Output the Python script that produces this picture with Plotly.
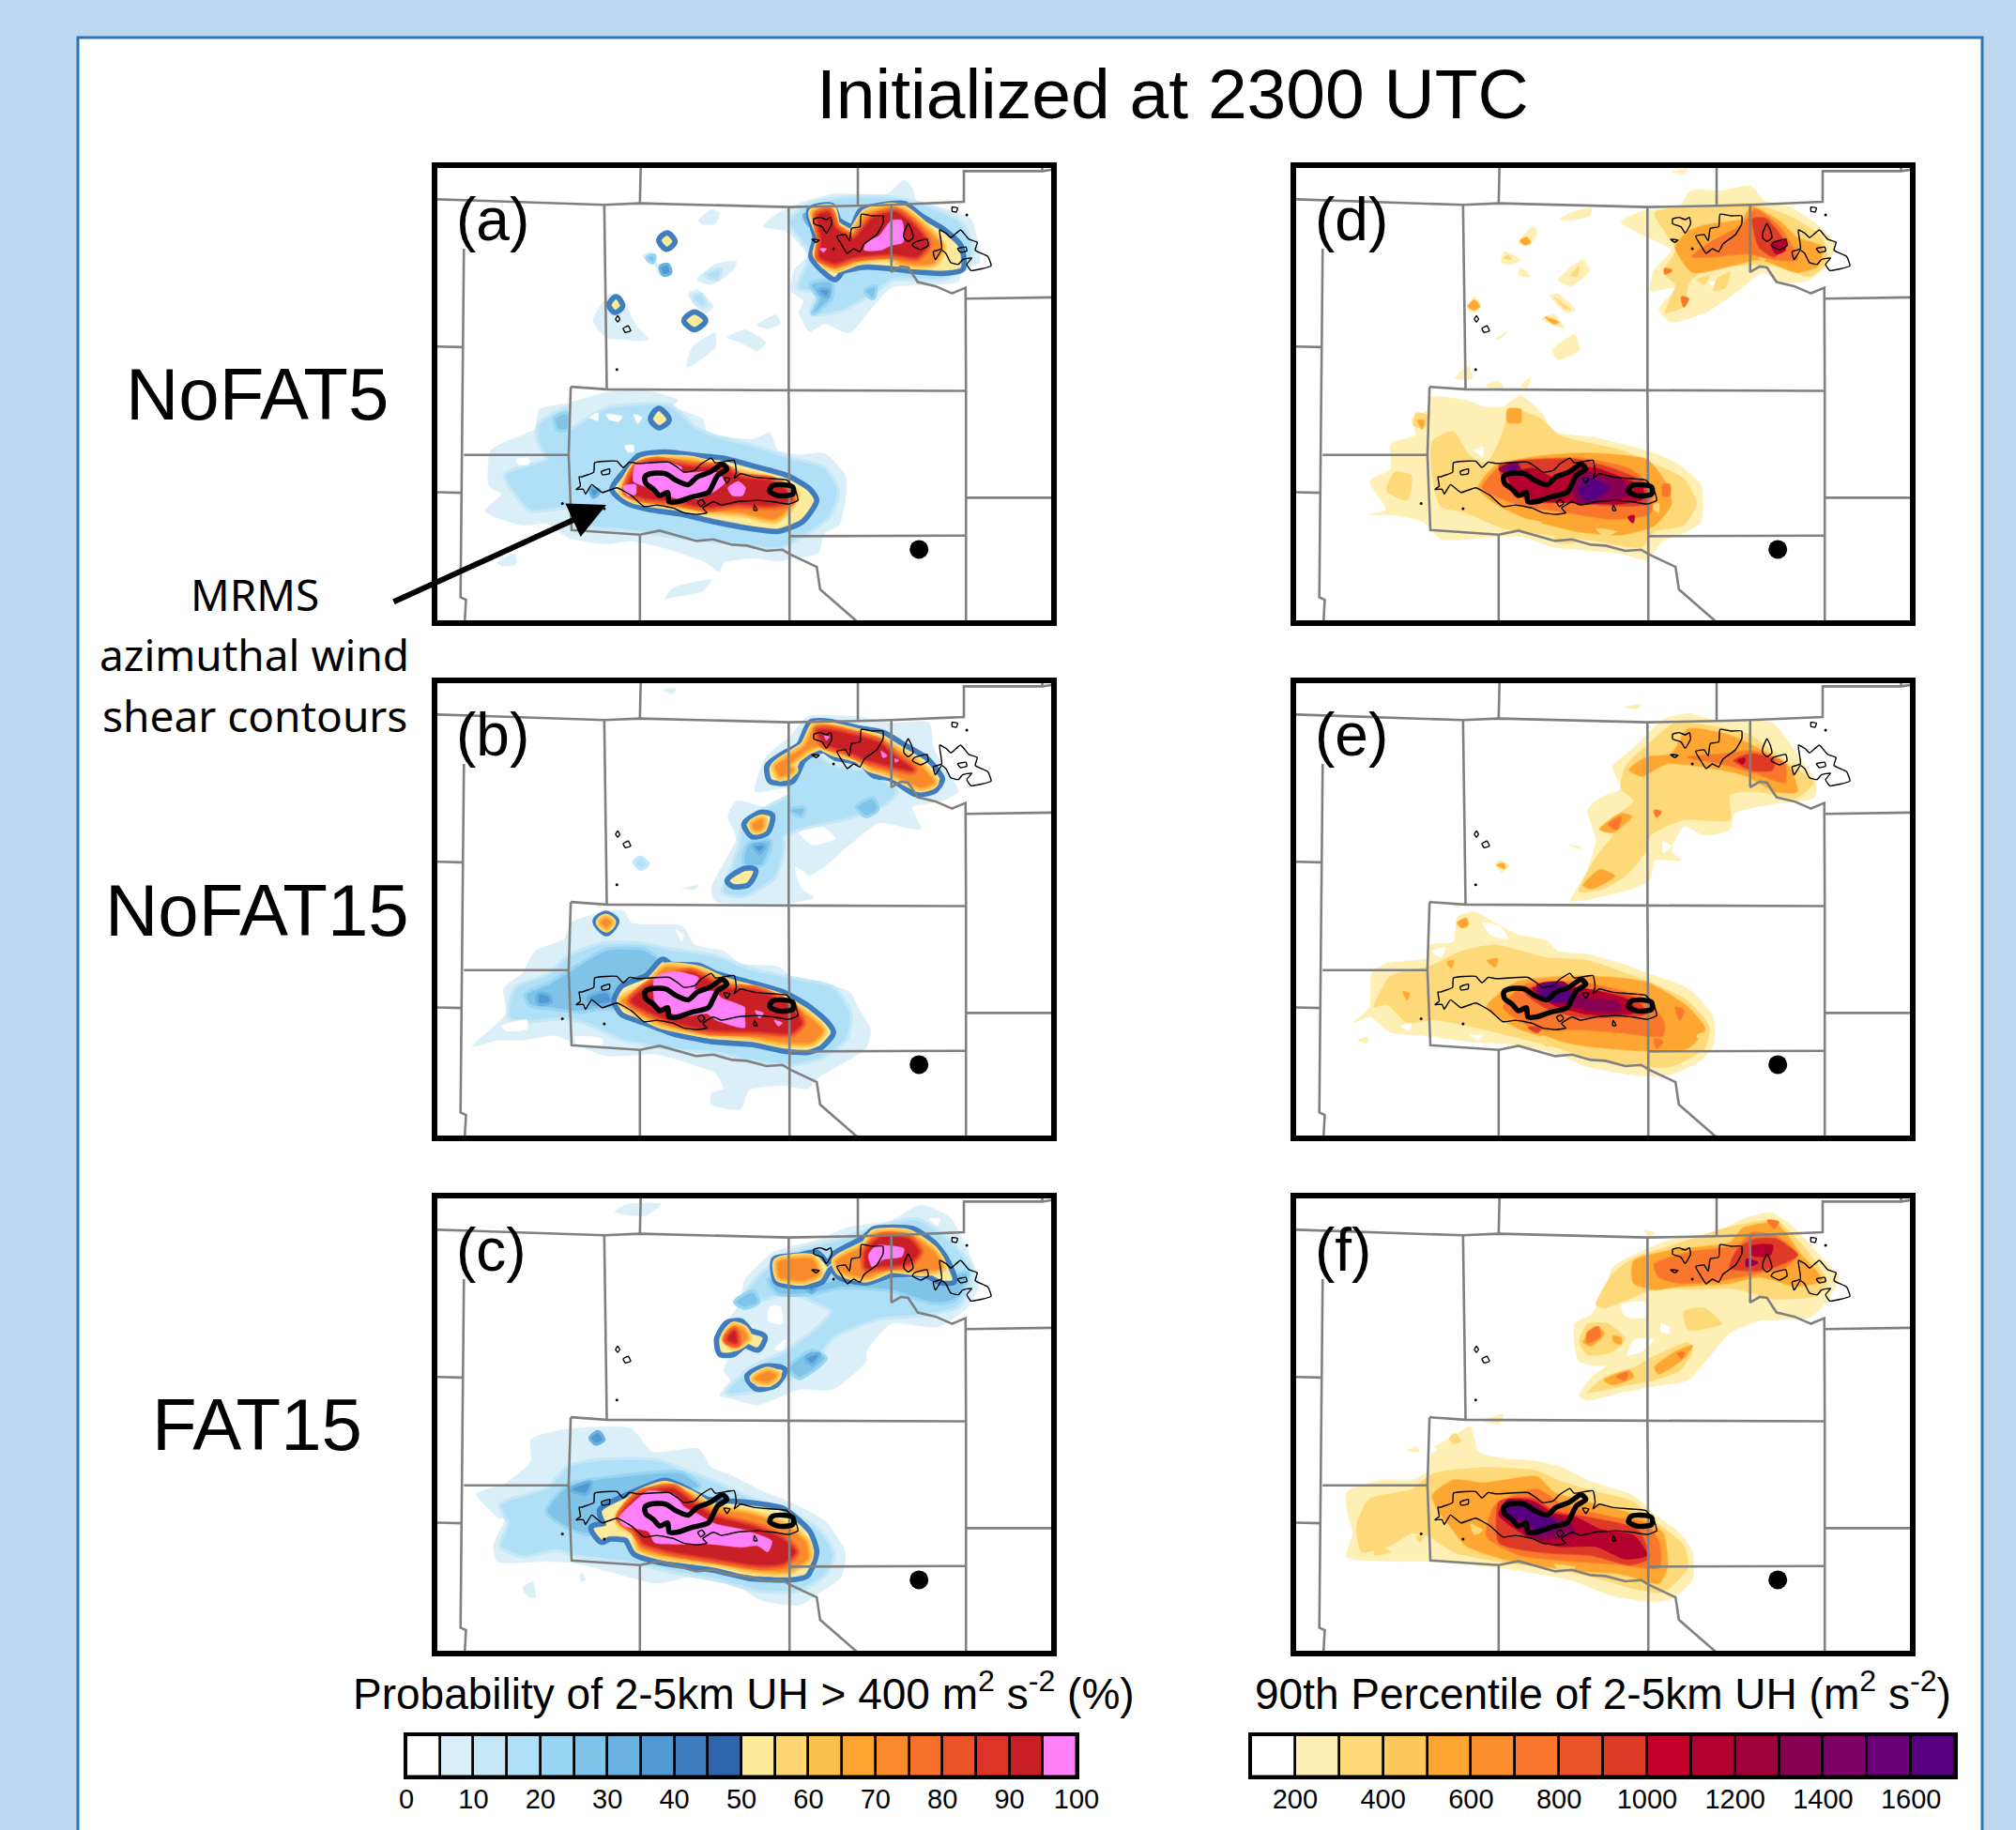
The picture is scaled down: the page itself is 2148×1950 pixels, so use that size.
import plotly.graph_objects as go

# ---------- text and colour scales ----------
TITLE = "Initialized at 2300 UTC"
ROW_NAMES = ["NoFAT5", "NoFAT15", "FAT15"]
NOTE_LINES = ["MRMS", "azimuthal wind", "shear contours"]
PANEL_TAGS = ["(a)", "(b)", "(c)", "(d)", "(e)", "(f)"]
PROB_TITLE = "Probability of 2-5km UH &gt; 400 m<sup>2</sup> s<sup>-2</sup> (%)"
UH_TITLE = "90th Percentile of 2-5km UH (m<sup>2</sup> s<sup>-2</sup>)"
PROB_COLORS = ["#FFFFFF", "#DAEFF8", "#C5E7F6", "#B0E0F7", "#97D5F3", "#7FC3E8", "#6AB2E0", "#5199D3", "#3F7DBE", "#2E66AE",
               "#FDEB9C", "#FDD572", "#FDBF4B", "#FDA431", "#F98B2C", "#F86F2A", "#EA5328", "#DE3428", "#C91F26", "#FF80F8"]
UH_COLORS = ["#FFFFFF", "#FEEFB4", "#FED979", "#FEC95C", "#FDA631", "#FC8F2D", "#F8772C", "#EA5329", "#DD3B27", "#C4002B",
             "#B3002F", "#9F0039", "#870052", "#7F0066", "#6A0075", "#56007F"]
PROB_EDGES = list(range(0, 105, 5))
UH_EDGES = list(range(100, 1800, 100))
PROB_TICKS = list(range(0, 110, 10))
UH_TICKS = list(range(200, 1800, 200))

# ---------- base map (state and county style outlines) ----------
MAP_LINES = [
    [(35,127),(435,145),(520,140),(875,152),(1040,148),(1120,145),(1293,135),(1293,37),(1480,37),(1502,33)],
    [(1480,25),(1480,37)], [(522,20),(520,140)], [(1040,20),(1040,148)],
    [(435,145),(441,735)], [(875,152),(875,738),(877,1205),(877,1480)],
    [(1120,145),(1120,360),(1143,342),(1160,345),(1183,392),(1225,405),(1265,428),(1297,410),(1298,740),(1298,1480)],
    [(1297,445),(1502,441)], [(355,727),(441,735),(875,738),(1298,740)],
    [(355,727),(350,945),(357,1185),(520,1200),(567,1187),(655,1220),(695,1215),(740,1232),(775,1235),(822,1252),(860,1248),(877,1262),(942,1303),(950,1375),(1040,1480)],
    [(100,285),(95,945),(92,1400),(105,1408),(102,1480)], [(100,945),(350,945)],
    [(35,598),(95,600)], [(35,1064),(95,1066)], [(520,1200),(520,1480)],
    [(877,1205),(1298,1203)], [(1298,1082),(1502,1082)],
]
MESO_DOT = [(1186, 1247)]

# ---------- MRMS azimuthal wind shear contours ----------
MRMS_THIN = [
    [(380,1015),(410,1000),(412,970),(465,965),(480,985),(495,968),(515,972),(590,968),(610,985),(625,1000),(650,995),(665,975),(690,955),(700,970),(745,962),(750,1000),(745,1020),(760,1005),(790,1015),(830,1020),(870,1025),(890,1055),(897,1090),(875,1102),(840,1095),(800,1090),(750,1095),(715,1105),(695,1095),(670,1115),(680,1130),(655,1135),(625,1130),(600,1115),(560,1105),(530,1110),(500,1075),(465,1050),(430,1065),(405,1040),(390,1070),(385,1055),(368,1055),(378,1045),(375,1015)],
    [(428,998),(448,990),(447,1005),(430,1008)], [(658,1095),(668,1088),(675,1100),(665,1110)],
    [(720,1018),(735,1020),(728,1035)], [(793,1105),(800,1122),(792,1122)],
    [(935,190),(950,185),(965,192),(975,185),(978,205),(965,235),(955,215),(935,205)],
    [(930,255),(948,258),(940,265)],
    [(990,245),(1010,240),(1020,260),(1025,220),(1045,215),(1048,175),(1075,180),(1100,180),(1100,205),(1085,240),(1055,270),(1045,295),(1030,285),(1015,300),(1000,270)],
    [(1150,235),(1160,205),(1168,225),(1172,250),(1160,262),(1150,250)],
    [(1175,265),(1205,255),(1208,275),(1190,288),(1170,275)],
    [(1235,225),(1250,235),(1262,250),(1285,225),(1305,255),(1325,265),(1320,290),(1350,310),(1358,340),(1310,355),(1300,335),(1312,315),(1290,320),(1280,335),(1262,330),(1250,300),(1240,290),(1225,320),(1220,295),(1240,285)],
    [(1278,285),(1298,280),(1300,292),(1285,297)], [(1265,152),(1278,155),(1275,168),(1265,165)],
    [(467,500),(472,510),(467,520),(462,510)], [(480,540),(492,532),(498,548),(485,553)],
]
MRMS_THICK = [
    [(532,1015),(545,1005),(582,1005),(605,1025),(635,1040),(657,1015),(687,1000),(717,975),(728,990),(706,1010),(694,1040),(683,1065),(642,1080),(608,1095),(590,1095),(586,1065),(567,1075),(553,1055),(534,1035)],
    [(835,1045),(860,1040),(885,1048),(885,1070),(850,1075),(830,1062)],
]
MRMS_DOTS = [(335,1100),(435,1117),(982,285),(1300,177),(465,672)]

# ---------- panel (a) probability regions ----------
A_L1 = [
    [(150,1125),(190,1070),(160,1045),(165,930),(270,860),(280,800),(345,780),(440,745),(520,735),(610,770),(600,790),(670,830),(680,870),(720,885),(790,895),(830,875),(850,930),(900,945),(960,940),(1010,1010),(1010,1090),(995,1170),(960,1195),(945,1260),(890,1275),(850,1285),(790,1275),(720,1290),(710,1320),(680,1290),(620,1260),(570,1240),(500,1220),(440,1230),(350,1210),(300,1165),(240,1170)],
    [(580,1405),(600,1370),(690,1345),(670,1380),(600,1400)], [(180,1290),(220,1260),(225,1295),(190,1300)],
    [(815,215),(845,175),(900,140),(980,110),(1110,110),(1150,65),(1170,90),(1180,130),(1230,150),(1310,190),(1325,260),(1330,330),(1290,350),(1280,390),(1220,400),(1120,410),(1070,480),(1020,555),(960,525),(925,550),(900,490),(910,450),(880,420),(890,350),(920,310),(870,230)],
    [(660,195),(690,160),(710,170),(700,205),(670,208)], [(525,310),(545,295),(560,330),(595,345),(590,372),(565,370),(555,335)],
    [(655,385),(700,335),(750,325),(745,350),(690,400)], [(635,430),(655,415),(695,470),(680,490),(650,465)],
    [(632,665),(645,600),(700,555),(700,600),(655,650)], [(728,570),(770,545),(820,585),(800,612),(760,585)],
    [(408,515),(450,430),(480,450),(510,530),(540,575),(515,580),(480,575),(440,570)], [(798,530),(845,497),(855,525),(825,540)],
]
A_L3 = [
    [(280,850),(345,800),(345,870),(440,800),(590,790),(650,860),(700,890),(790,920),(880,960),(960,990),(990,1060),(970,1140),(920,1190),(850,1240),(750,1225),(620,1205),(480,1180),(400,1170),(350,1110),(260,1120),(220,1060),(200,1010),(300,960),(280,900)],
    [(880,200),(920,150),(1000,125),(1120,125),(1200,150),(1280,200),(1310,270),(1300,340),(1240,380),(1120,380),(1080,420),(1000,480),(960,490),(930,490),(950,420),(900,410),(920,340),(930,300)],
    [(680,370),(710,355),(705,380)], [(650,440),(665,435),(675,465),(660,460)],
]
A_HOLES = [[(400,825),(420,810),(420,835)], [(440,815),(478,822),(470,838),(445,830)], [(505,815),(525,825),(515,845)],
           [(485,915),(505,915),(505,935),(490,935)], [(225,960),(255,955),(255,975),(230,975)]]
A_L5 = [[(320,830),(345,815),(345,860),(325,860)], [(930,400),(975,395),(975,440),(935,490),(950,445)],
        [(540,315),(552,310),(550,325)], [(1060,420),(1080,410),(1075,440)]]
A_L7 = [[(572,345),(585,340),(590,360),(578,365)], [(950,420),(968,420),(965,435)],
        [(405,1055),(420,1060),(410,1075)], [(915,180),(928,185),(925,205)]]
A_L10 = [
    [(460,1055),(490,1000),(520,955),(580,945),(650,955),(720,965),(790,990),(870,1020),(920,1060),(935,1090),(905,1150),(850,1180),(780,1170),(700,1150),(620,1125),(540,1110),(490,1090)],
    [(930,165),(975,155),(990,200),(1030,225),(1050,170),(1120,150),(1150,150),(1190,190),(1240,230),(1280,280),(1285,345),(1240,355),(1180,350),(1120,340),(1060,335),(1000,350),(985,375),(960,350),(935,310),(945,250)],
    [(572,258),(585,244),(597,262),(584,278)], [(453,465),(463,448),(472,468),(461,480)],
    [(632,515),(650,497),(670,515),(650,535)], [(552,830),(565,805),(583,832),(566,849)],
]
A_L14 = [
    [(480,1060),(510,985),(540,965),(640,965),(700,985),(770,1010),(860,1040),(890,1070),(870,1120),(840,1150),(770,1130),(680,1120),(590,1100),(510,1085)],
    [(935,170),(975,160),(985,210),(1025,240),(1060,175),(1120,155),(1150,165),(1200,220),(1240,280),(1220,330),(1150,330),(1110,310),(1040,320),(990,345),(965,335),(945,300),(955,250)],
]
A_L18 = [
    [(490,1060),(515,985),(560,968),(640,985),(720,990),(760,1020),(830,1030),(860,1050),(880,1090),(830,1105),(750,1100),(680,1110),(600,1090),(530,1080)],
    [(945,180),(970,170),(985,220),(1030,255),(1075,190),(1130,170),(1175,215),(1205,270),(1180,310),(1120,300),(1030,310),(985,330),(950,310),(955,260)],
]
A_L19 = [
    [(510,975),(590,970),(620,985),(620,1000),(700,1000),(725,1030),(700,1060),(660,1085),(610,1085),(575,1070),(540,1050),(505,1030)],
    [(480,1045),(510,1040),(510,1070),(490,1075)], [(730,1050),(755,1030),(772,1050),(765,1075),(740,1075)],
    [(1120,195),(1145,195),(1148,265),(1120,275),(1095,290),(1055,290),(1060,265),(1090,245)], [(950,285),(965,285),(958,297)],
]

# ---------- panel (b) probability regions ----------
B_L1 = [
    [(120,1185),(200,1080),(195,1000),(240,950),(270,880),(340,840),(355,790),(420,760),(480,750),(500,790),(620,800),(650,860),(720,880),(760,920),(850,930),(880,960),(960,985),(1020,1010),(1040,1060),(1070,1130),(1060,1190),(990,1250),(950,1280),(920,1320),(860,1310),(780,1325),(760,1385),(690,1370),(690,1335),(720,1320),(700,1270),(640,1240),(560,1210),(440,1215),(370,1180),(320,1150),(240,1165),(180,1165)],
    [(795,370),(820,260),(880,190),(920,130),(1040,130),(1120,150),(1210,150),(1220,230),(1250,300),(1280,370),(1240,400),(1170,420),(1190,490),(1090,470),(1020,540),(960,610),(920,640),(890,610),(905,680),(935,710),(880,725),(700,720),(690,680),(720,600),(750,520),(730,450),(750,400),(790,410),(830,420),(870,400),(870,360)],
    [(575,45),(605,40),(600,57)], [(620,680),(660,670),(650,683)], [(503,600),(520,575),(543,600),(525,622)],
]
B_L3 = [
    [(210,1090),(225,1000),(300,960),(350,900),(430,860),(520,860),(600,880),(700,900),(780,940),(880,970),(980,1000),(1020,1080),(1010,1160),(950,1220),(880,1240),(800,1230),(700,1200),(600,1190),(480,1160),(400,1110),(340,1090),(260,1100)],
    [(830,300),(860,280),(930,250),(980,290),(1060,310),(1130,370),(1100,410),(1020,450),(920,480),(860,510),(860,560),(840,640),(770,700),(720,690),(740,620),(760,540),(770,470),(830,420),(880,380),(870,340)],
    [(510,595),(522,585),(535,602),(522,612)],
]
B_HOLES = [[(190,1120),(250,1100),(250,1130),(200,1135)], [(365,1155),(430,1160),(430,1180),(370,1180)], [(605,810),(625,830),(620,850)],
           [(900,500),(960,485),(985,520),(930,540)], [(890,610),(920,640),(905,670)]]
B_L5 = [[(250,1020),(300,990),(350,950),(440,880),(530,880),(570,920),(520,960),(460,1060),(430,1060),(380,1070),(310,1060),(260,1050)],
        [(1040,420),(1075,395),(1085,425),(1060,445)], [(880,430),(910,425),(905,445)], [(780,540),(830,530),(810,600),(770,600)]]
B_L7 = [[(400,1030),(440,1015),(450,1040),(410,1045)], [(280,1020),(300,1025),(305,1040),(280,1045)], [(795,545),(815,545),(805,560)]]
B_L10 = [
    [(465,1040),(480,1000),(540,965),(575,915),(590,930),(660,935),(700,960),(770,985),(860,1020),(920,1065),(960,1110),(975,1140),(950,1180),(920,1195),(860,1190),(790,1170),(690,1160),(600,1135),(530,1100),(480,1075)],
    [(905,225),(930,155),(975,155),(1040,175),(1100,190),(1150,230),(1200,270),(1235,330),(1220,360),(1180,370),(1120,320),(1080,310),(1050,270),(990,255),(960,230),(930,240),(905,265),(880,330),(835,330),(830,290),(860,260)],
    [(775,475),(810,445),(830,450),(820,495),(790,505)], [(735,655),(770,625),(790,625),(775,660),(745,665)],
    [(420,785),(438,768),(458,785),(440,815)],
]
B_L14 = [
    [(478,1040),(540,990),(580,935),(660,945),(720,980),(860,1035),(930,1100),(955,1135),(930,1170),(860,1170),(780,1150),(680,1140),(570,1110),(495,1060)],
    [(915,225),(940,160),(975,165),(1040,185),(1095,205),(1140,245),(1190,290),(1220,340),(1190,355),(1120,310),(1070,290),(1040,260),(985,240),(950,220),(920,235),(870,290),(885,300),(855,320),(845,290),(870,265)],
    [(790,475),(812,460),(810,485),(795,490)], [(428,788),(438,778),(450,788),(440,803)],
]
B_L18 = [
    [(500,1040),(550,985),(640,950),(720,1000),(800,1010),(880,1060),(905,1110),(880,1140),(800,1135),(680,1130),(590,1100),(530,1065)],
    [(945,175),(975,175),(1040,195),(1090,215),(1130,260),(1170,300),(1130,290),(1060,265),(1010,235),(960,215)],
]
B_L19 = [
    [(555,965),(600,945),(660,965),(650,1000),(700,1010),(715,1030),(770,1060),(770,1090),(770,1125),(700,1100),(680,1080),(620,1090),(575,1065),(555,1040)],
    [(795,1070),(815,1078),(805,1095)], [(840,1100),(860,1110),(850,1120)],
    [(960,190),(972,195),(965,205)], [(1095,240),(1110,255),(1100,262)], [(1128,265),(1138,270),(1130,276)],
]

# ---------- panel (c) probability regions ----------
C_L1 = [
    [(130,965),(200,930),(260,860),(260,790),(330,760),(420,750),(500,755),(550,830),(660,820),(690,880),(730,900),(820,960),(860,980),(960,1050),(1010,1150),(1000,1230),(960,1270),(900,1320),(810,1305),(740,1250),(640,1230),(560,1250),(440,1210),(360,1185),(300,1180),(180,1180),(170,1130),(190,1060)],
    [(240,1265),(265,1245),(270,1295),(255,1295)], [(380,1215),(390,1240),(378,1245)], [(460,62),(490,38),(570,38),(530,75)],
    [(710,650),(735,600),(720,570),(740,500),(695,510),(730,410),(760,350),(770,280),(840,190),(950,150),(1020,110),(1120,90),(1190,40),(1260,80),(1290,150),(1310,210),(1330,290),(1300,370),(1230,430),(1120,420),(1060,510),(1060,540),(980,630),(900,630),(800,680),(740,660)],
]
C_L3 = [
    [(190,1000),(300,950),(350,880),(420,860),(560,860),(620,890),(700,930),(780,980),(870,1020),(950,1090),(980,1160),(960,1220),(900,1270),(800,1270),(720,1240),(600,1210),(500,1180),(380,1160),(320,1140),(240,1160),(190,1130),(210,1060)],
    [(760,360),(800,280),(870,200),(980,160),(1100,110),(1180,90),(1260,160),(1310,250),(1280,360),(1180,390),(1090,400),(980,460),(920,560),(800,630),(730,640),(790,560),(860,520),(950,430),(980,380),(880,320),(810,340)],
]
C_HOLES = [[(830,365),(855,365),(860,420),(825,410)], [(840,500),(870,470),(860,505)], [(170,1050),(195,1045),(190,1070)], [(1210,85),(1235,85),(1230,105)]]
C_L5 = [[(300,1020),(350,940),(420,920),(560,900),(620,900),(660,940),(560,950),(490,980),(430,1060),(400,1090),(350,1070)],
        [(830,280),(930,300),(1000,280),(1120,270),(1240,280),(1300,260),(1270,340),(1220,350),(1120,310),(1000,300),(930,320),(850,320)],
        [(880,560),(930,510),(960,530),(900,590)], [(750,350),(790,320),(800,350),(770,365)]]
C_L7 = [[(405,785),(420,770),(430,790),(415,800)], [(360,950),(400,930),(390,960)], [(920,300),(940,295),(930,315)], [(920,530),(945,520),(930,545)]]
C_L10 = [
    [(430,1020),(500,970),(580,930),(620,950),(680,990),(770,1000),(860,1020),(920,1090),(935,1150),(915,1220),(880,1230),(780,1225),(700,1200),(570,1175),(510,1150),(490,1105),(445,1100),(430,1110),(410,1075),(440,1065)],
    [(845,220),(900,210),(940,200),(970,240),(990,200),(1060,150),(1080,125),(1170,125),(1220,170),(1245,215),(1265,280),(1240,280),(1200,255),(1120,255),(1060,280),(1000,265),(975,230),(950,280),(920,290),(880,290),(850,280)],
    [(710,470),(730,425),(760,420),(780,450),(812,465),(800,495),(770,480),(740,510),(715,510)],
    [(782,590),(820,565),(860,570),(840,610),(800,620)],
]
C_L14 = [
    [(470,1040),(510,975),(580,940),(640,970),(690,1010),(780,1030),(870,1070),(915,1120),(920,1170),(870,1210),(790,1205),(700,1180),(580,1160),(520,1135),(510,1085),(475,1060)],
    [(850,225),(930,215),(945,260),(910,280),(870,275),(855,270)],
    [(990,220),(1060,170),(1080,135),(1160,135),(1220,190),(1240,240),(1190,250),(1120,240),(1060,270),(1000,250)],
    [(725,465),(745,430),(765,440),(775,465),(745,490)], [(795,595),(825,575),(845,585),(825,605)],
]
C_L18 = [
    [(475,1040),(520,970),(600,950),(650,1000),(700,1040),(790,1070),(860,1110),(890,1150),(860,1185),(800,1190),(700,1170),(590,1145),(530,1120),(510,1080)],
    [(1060,190),(1095,145),(1160,150),(1185,190),(1160,225),(1090,235),(1060,240)], [(730,470),(745,445),(750,480)],
]
C_L19 = [
    [(470,1040),(510,985),(540,955),(600,965),(625,1005),(660,1030),(700,1060),(770,1080),(835,1115),(825,1150),(800,1130),(760,1135),(690,1125),(600,1125),(555,1120),(540,1085),(480,1065)],
    [(1065,200),(1085,170),(1150,180),(1145,205),(1100,215),(1075,240)],
]

# ---------- panel (d) 90th percentile regions ----------
D_L1 = [
    [(200,1135),(240,1120),(200,1030),(250,990),(250,910),(310,880),(300,830),(340,800),(345,760),(430,770),(470,790),(520,790),(560,755),(610,810),(640,870),(740,890),(800,910),(860,930),(930,970),(990,1040),(990,1160),(950,1195),(900,1220),(860,1280),(800,1260),(720,1250),(640,1240),(560,1205),(470,1210),(370,1215),(330,1160),(270,1140)],
    [(800,200),(850,165),(940,150),(965,100),(1040,100),(1110,85),(1140,130),(1200,150),(1270,210),(1310,270),(1290,340),(1240,390),(1170,390),(1140,360),(1070,430),(1000,490),(920,520),(890,480),(930,410),(870,420),(880,350),(920,290),(850,240)],
    [(655,190),(690,165),(730,155),(725,180),(670,195)], [(555,265),(590,215),(600,235),(580,275)],
    [(515,330),(520,295),(560,320),(540,335)], [(555,370),(560,345),(585,375)], [(650,385),(710,320),(725,355),(680,405)],
    [(630,435),(650,430),(690,480),(670,490)], [(610,510),(640,495),(665,540),(640,530)], [(635,610),(690,560),(700,610),(650,640)],
    [(435,480),(450,435),(465,470),(450,490)], [(500,575),(530,550),(510,575)], [(920,40),(960,30),(950,45)],
    [(405,700),(435,660),(445,700)], [(480,720),(510,710),(520,735),(485,735)], [(560,725),(585,695),(575,730)],
]
D_HOLES = [[(450,930),(470,920),(470,950)], [(610,880),(635,870),(625,905)], [(350,910),(375,900),(370,935)], [(500,760),(470,775),(490,785)],
           [(1010,390),(1030,395),(1020,410)]]
D_L2 = [
    [(350,900),(400,870),(440,950),(480,970),(510,900),(540,800),(610,830),(650,880),(700,900),(800,930),(870,970),(950,1020),(980,1100),(950,1170),(880,1190),(850,1240),(740,1220),(620,1200),(520,1180),(430,1130),(370,1110),(350,1020)],
    [(310,810),(340,820),(330,860),(305,850)], [(260,1000),(300,1010),(290,1090),(240,1060)],
    [(880,170),(1000,150),(1110,140),(1200,180),(1280,250),(1290,330),(1250,375),(1170,340),(1060,340),(980,370),(960,400),(950,470),(905,490),(930,400),(900,360),(930,290)],
    [(680,370),(700,340),(695,375)], [(640,440),(680,480),(665,478)], [(520,315),(530,305),(540,320)],
]
D_L4 = [
    [(460,1050),(500,980),(600,950),(720,940),(860,960),(900,1020),(920,1100),(880,1170),(800,1200),(700,1190),(580,1150),(500,1100)],
    [(530,800),(560,800),(560,840),(530,840)], [(315,835),(330,835),(325,860)],
    [(930,280),(960,230),(1000,210),(1090,190),(1110,150),(1180,200),(1220,250),(1280,280),(1270,340),(1220,360),(1130,320),(1060,340),(970,360)],
    [(435,470),(450,450),(462,470),(450,480)], [(560,260),(575,250),(583,265),(570,272)], [(620,505),(650,520),(640,525)],
]
D_PALE = [[(920,1040),(945,1030),(950,1080),(925,1090)], [(930,1120),(960,1110),(955,1150),(930,1150)], [(640,1210),(700,1195),(690,1225),(650,1225)],
          [(470,1140),(520,1150),(500,1170)], [(1030,380),(1060,360),(1050,410),(1020,420)], [(980,385),(1010,370),(1000,400)],
          [(560,1150),(610,1160),(590,1175)], [(740,1180),(790,1190),(760,1205)], [(870,1110),(890,1100),(890,1130)], [(1120,300),(1150,300),(1140,325)]]
D_L6 = [
    [(470,1050),(520,975),(690,955),(820,990),(870,1050),(870,1130),(780,1150),(680,1130),(560,1105)],
    [(970,310),(1020,260),(1090,210),(1120,160),(1180,220),(1220,320),(1170,320),(1100,300),(1020,310)],
    [(900,1040),(915,1040),(915,1075),(900,1075)], [(945,440),(960,445),(950,470)], [(905,350),(920,355),(905,365)],
]
D_L8 = [
    [(510,980),(560,965),(690,960),(780,990),(860,1040),(860,1100),(760,1105),(680,1095),(590,1095),(530,1050)],
    [(1115,190),(1145,190),(1190,270),(1165,310),(1130,280)],
]
D_L10 = [
    [(530,1010),(590,990),(640,1020),(690,990),(740,990),(800,1020),(850,1050),(850,1085),(790,1100),(700,1095),(600,1090),(550,1060)],
    [(1160,270),(1190,260),(1190,290),(1170,300)], [(818,1145),(830,1140),(828,1160)],
]
D_L12 = [[(680,1040),(710,1000),(740,1010),(800,1020),(820,1070),(770,1090),(700,1100)], [(510,990),(550,970),(560,1000),(530,1005)]]
D_L15 = [[(700,1060),(720,1020),(770,1050),(750,1075),(720,1090)], [(530,985),(550,985),(545,1000)]]

# ---------- panel (e) 90th percentile regions ----------
E_L1 = [
    [(160,1110),(200,1060),(205,950),(240,920),(340,900),(345,860),(400,850),(410,770),(450,755),(500,790),(560,830),(620,845),(650,880),(720,890),(800,920),(860,950),(960,1000),(1020,1090),(1020,1180),(990,1230),(920,1275),(860,1280),(720,1250),(650,1210),(550,1180),(440,1170),(330,1150),(250,1140),(200,1090)],
    [(690,690),(720,620),(740,520),(720,430),(750,390),(800,360),(780,290),(830,230),(900,140),(960,120),(1020,140),(1160,150),(1220,250),(1265,340),(1260,390),(1160,410),(1070,440),(1060,490),(1000,510),(950,480),(920,560),(945,590),(880,590),(870,650),(830,680),(680,720)],
    [(810,100),(845,90),(840,105)], [(500,600),(515,588),(532,610),(515,628)], [(675,540),(700,545),(710,555)], [(172,1165),(195,1155),(195,1175)],
]
E_HOLES = [[(470,790),(510,800),(530,840),(490,830)], [(350,880),(380,870),(370,900)], [(915,310),(940,350),(920,345)], [(955,400),(980,390),(970,430)], [(900,530),(920,545),(900,565)],
           [(440,1150),(470,1150),(460,1165)], [(245,990),(260,985),(255,1005)], [(310,985),(325,980),(320,1000)], [(275,1120),(300,1110),(295,1135)]]
E_L2 = [
    [(210,1060),(250,960),(340,930),(420,880),(500,860),(620,900),(720,910),(810,950),(870,980),(960,1040),(1010,1120),(1000,1190),(920,1250),(850,1250),(720,1220),(650,1190),(470,1130),(350,1100),(290,1110),(240,1050)],
    [(780,510),(790,450),(830,400),(800,360),(810,290),(880,200),(930,150),(1060,170),(1110,190),(1200,280),(1260,340),(1220,390),(1120,370),(1060,380),(1060,460),(950,460),(870,510),(860,560),(810,640),(760,680),(700,690),(740,580)],
]
E_L4 = [
    [(480,1060),(550,980),(700,960),(860,980),(960,1060),(1000,1130),(960,1190),(880,1200),(700,1180),(560,1130)],
    [(410,790),(430,775),(435,795),(420,805)], [(505,605),(520,600),(522,615)], [(480,910),(505,905),(500,930)], [(385,915),(400,910),(395,935)],
    [(820,300),(860,260),(920,250),(960,170),(1060,190),(1110,220),(1200,290),(1220,370),(1170,370),(1100,320),(1040,300),(910,280),(850,320)],
    [(750,490),(800,440),(825,450),(780,500)], [(710,670),(750,620),(785,640),(730,680)], [(280,1010),(295,1015),(290,1035)],
]
E_PALE = [[(440,1090),(480,1100),(460,1125)], [(610,1150),(650,1170),(620,1185)], [(980,1150),(1000,1140),(995,1175)],
          [(920,1210),(950,1205),(940,1230)], [(1000,420),(1030,410),(1040,440),(1010,450)], [(880,390),(905,380),(900,410)]]
E_L6 = [
    [(520,1060),(570,990),(700,980),(850,1030),(900,1100),(900,1150),(800,1140),(700,1130),(600,1130)],
    [(960,260),(1050,250),(1110,240),(1190,280),(1190,340),(1120,310),(1040,280)], [(770,475),(800,450),(790,490)],
    [(930,1060),(950,1070),(940,1100)], [(880,1160),(900,1170),(885,1190)], [(880,430),(895,435),(885,450)],
]
E_L8 = [
    [(570,1010),(620,985),(700,1000),(830,1030),(860,1080),(780,1090),(700,1090),(620,1060)],
    [(580,1125),(610,1125),(600,1140)], [(1070,270),(1110,250),(1165,270),(1160,300),(1110,300)],
]
E_L10 = [[(590,1000),(700,1000),(820,1040),(830,1075),(720,1080),(640,1050)], [(1080,270),(1095,265),(1090,280)]]
E_L12 = [[(600,990),(660,980),(710,1030),(790,1040),(800,1070),(730,1070),(660,1045)]]
E_L15 = [[(605,1000),(630,985),(670,1000),(680,1030),(640,1040),(610,1020)]]

# ---------- panel (f) 90th percentile regions ----------
F_L1 = [
    [(145,1165),(160,1090),(150,1040),(145,960),(230,920),(300,920),(340,890),(350,820),(400,780),(440,750),(460,830),(520,850),(600,860),(660,880),(720,920),(830,970),(880,1030),(940,1090),(970,1150),(970,1240),(920,1300),(880,1310),(780,1290),(680,1240),(560,1210),(430,1190),(340,1180),(260,1180)],
    [(700,650),(730,590),(800,530),(850,510),(880,470),(830,470),(800,550),(700,540),(690,420),(730,390),(760,320),(780,240),(830,200),(920,150),(1020,130),(1100,80),(1160,65),(1210,110),(1280,210),(1320,270),(1290,350),(1250,400),(1130,410),(1060,450),(1020,510),(960,600),(880,620),(800,640),(720,665)],
    [(855,120),(880,130),(865,140)], [(290,825),(315,815),(318,830)], [(470,730),(520,710),(510,740)],
]
F_HOLES = [[(800,360),(855,350),(855,400),(810,395)], [(895,420),(915,430),(915,450),(895,445)], [(345,815),(360,820),(350,835)], [(220,1060),(250,1060),(240,1070)]]
F_L2 = [
    [(180,1150),(170,1060),(200,980),(300,950),(350,900),(470,880),(600,890),(650,920),(720,950),(830,990),(880,1050),(950,1130),(960,1200),(900,1280),(840,1270),(730,1230),(620,1200),(500,1180),(400,1150),(340,1100),(300,1090),(250,1130)],
    [(720,640),(760,590),(830,560),(870,530),(960,480),(970,510),(940,570),(880,600),(800,620),(730,640)],
    [(700,480),(720,420),(770,420),(810,470),(780,510),(720,520)],
    [(740,360),(780,260),(830,210),(920,170),(1060,110),(1170,90),(1240,180),(1290,280),(1270,330),(1160,340),(1080,310),(960,310),(880,310),(820,340),(760,370)],
    [(950,380),(1000,370),(1040,420),(960,440)], [(390,785),(405,770),(418,795),(400,805)],
]
F_L4 = [
    [(350,970),(400,920),(470,930),(600,910),(640,960),(830,1030),(900,1090),(910,1200),(890,1250),(800,1220),(700,1210),(540,1180),(430,1130),(400,1080),(370,1030)],
    [(830,290),(830,220),(920,185),(1060,160),(1090,115),(1170,100),(1230,200),(1280,280),(1220,300),(1130,270),(1060,290),(940,300),(880,310)],
    [(710,480),(740,430),(760,450),(730,490)], [(780,460),(800,465),(800,485),(785,480)],
    [(760,600),(820,570),(830,590),(780,615)], [(880,560),(930,510),(970,490),(950,530),(890,580)],
]
F_PALE = [[(250,1150),(210,1160),(220,1130)], [(310,1100),(330,1100),(320,1120)], [(440,1060),(470,1080),(450,1095)], [(640,1190),(690,1200),(660,1215)], [(940,1170),(960,1180),(945,1200)]]
F_L6 = [
    [(480,1100),(500,1000),(600,950),(660,1000),(780,1040),(860,1060),(890,1120),(890,1200),(800,1190),(700,1180),(560,1160)],
    [(880,230),(970,190),(1080,170),(1110,130),(1170,140),(1220,200),(1190,240),(1120,260),(1040,280),(940,290),(890,270)],
    [(720,450),(745,430),(750,460),(720,480)], [(790,590),(815,575),(810,600)], [(935,515),(950,512),(945,530)], [(1150,90),(1175,95),(1165,115)],
]
F_L8 = [
    [(510,1120),(510,990),(590,980),(640,1020),(720,1040),(840,1080),(865,1170),(820,1190),(730,1160),(610,1150)],
    [(1080,180),(1120,150),(1170,150),(1220,200),(1170,235),(1120,250),(1060,240)],
]
F_L10 = [
    [(510,1030),(530,985),(590,990),(640,1030),(690,1040),(750,1080),(830,1100),(860,1160),(810,1170),(740,1130),(650,1130),(580,1100)],
    [(1110,175),(1160,170),(1155,200),(1115,200)],
]
F_L12 = [[(515,1020),(530,985),(590,1000),(640,1040),(680,1060),(690,1090),(610,1110),(570,1090),(560,1050)], [(1100,215),(1125,225),(1100,235)]]
F_L15 = [[(520,1020),(540,995),(575,1010),(630,1040),(650,1070),(600,1090),(580,1050),(530,1040)]]

# ---------- panel layering: (colour level, regions); a value of 0 or below overprints that colour without stepping the scale ----------
PANEL_LAYERS = {
    "a": [(1, A_L1), (3, A_L3), (0, A_HOLES), (5, A_L5), (7, A_L7), (10, A_L10), (14, A_L14), (18, A_L18), (19, A_L19)],
    "b": [(1, B_L1), (3, B_L3), (0, B_HOLES), (5, B_L5), (7, B_L7), (10, B_L10), (14, B_L14), (18, B_L18), (19, B_L19)],
    "c": [(1, C_L1), (3, C_L3), (0, C_HOLES), (5, C_L5), (7, C_L7), (10, C_L10), (14, C_L14), (18, C_L18), (19, C_L19)],
    "d": [(1, D_L1), (0, D_HOLES), (2, D_L2), (4, D_L4), (-2, D_PALE), (6, D_L6), (8, D_L8), (10, D_L10), (12, D_L12), (15, D_L15)],
    "e": [(1, E_L1), (0, E_HOLES), (2, E_L2), (4, E_L4), (-2, E_PALE), (6, E_L6), (8, E_L8), (10, E_L10), (12, E_L12), (15, E_L15)],
    "f": [(1, F_L1), (0, F_HOLES), (2, F_L2), (4, F_L4), (-2, F_PALE), (6, F_L6), (8, F_L8), (10, F_L10), (12, F_L12), (15, F_L15)],
}
# stroke widths that grade the blue halo round the 50% edge, from the palest step to the darkest
CORE_HALO = {4: 48, 5: 38, 6: 30, 7: 22, 8: 12}

# ---------- page geometry ----------
W, H = 2148, 1950
FRAME = 3
MAP_X = [30 + FRAME * 2.24, 1508 - FRAME * 2.24]
MAP_Y = [18 + FRAME * 3, 1483 - FRAME * 3]
PANELS = {  # left, right, top, bottom in page pixels; reading offsets
    "a": (463, 1123, 176, 664, 0, 0), "b": (463, 1123, 725, 1213, 0, 4), "c": (463, 1123, 1274, 1762, 0, 8),
    "d": (1378, 2038, 176, 664, 12, 0), "e": (1378, 2038, 725, 1213, 12, 4), "f": (1378, 2038, 1274, 1762, 12, 8),
}
SMOOTH = dict(shape="spline", smoothing=0.6)


def fx(px):
    return px / W


def fy(py):
    return 1 - py / H


def joined(polys, dx=0, dy=0, close=True):
    xs, ys = [], []
    for p in polys:
        pts = list(p) + ([p[0]] if close else [])
        xs += [q[0] + dx for q in pts] + [None]
        ys += [q[1] + dy for q in pts] + [None]
    return xs, ys


fig = go.Figure()
layout_axes = {}
for n, key in enumerate("abcdef", start=1):
    l, r, t, b, dx, dy = PANELS[key]
    sx = "" if n == 1 else str(n)
    common = dict(showgrid=False, zeroline=False, showticklabels=False, ticks="", showline=True, mirror=True,
                  linecolor="black", linewidth=2 * FRAME, fixedrange=True)
    layout_axes["xaxis" + sx] = dict(domain=[fx(l + FRAME), fx(r - FRAME)], range=MAP_X, anchor="y" + sx, **common)
    layout_axes["yaxis" + sx] = dict(domain=[fy(b - FRAME), fy(t + FRAME)], range=MAP_Y[::-1], anchor="x" + sx, **common)
    is_prob = key in "abc"
    colors = PROB_COLORS if is_prob else UH_COLORS
    prev = None
    for level, polys in PANEL_LAYERS[key]:
        xs, ys = joined(polys, dx, dy)
        if level > 0 and prev is not None:
            for j in range(prev + 1, level):
                if is_prob and j == 9:
                    continue  # darkest blue step stays hairline thin in the reference
                if is_prob and level == 10:
                    width = CORE_HALO[j]
                elif is_prob:
                    width = (level - j) * (7 if j < 9 else 4)
                else:
                    width = (level - j) * 2.5
                fig.add_trace(go.Scatter(x=xs, y=ys, mode="lines", xaxis="x" + sx, yaxis="y" + sx, hoverinfo="skip",
                                         line=dict(color=colors[j], width=width, **SMOOTH)))
        fig.add_trace(go.Scatter(x=xs, y=ys, mode="lines", fill="toself", fillcolor=colors[abs(level)], xaxis="x" + sx, yaxis="y" + sx,
                                 hoverinfo="skip", line=dict(color=colors[abs(level)], width=0.5, **SMOOTH)))
        if level > 0:
            prev = level
    xs, ys = joined(MAP_LINES, close=False)
    fig.add_trace(go.Scatter(x=xs, y=ys, mode="lines", line=dict(color="#808080", width=2.6), xaxis="x" + sx, yaxis="y" + sx, hoverinfo="skip"))
    xs, ys = joined(MRMS_THIN)
    fig.add_trace(go.Scatter(x=xs, y=ys, mode="lines", line=dict(color="black", width=1.4, shape="spline", smoothing=0.4), xaxis="x" + sx, yaxis="y" + sx, hoverinfo="skip"))
    xs, ys = joined(MRMS_THICK)
    fig.add_trace(go.Scatter(x=xs, y=ys, mode="lines", line=dict(color="black", width=5.5, shape="spline", smoothing=0.8), xaxis="x" + sx, yaxis="y" + sx, hoverinfo="skip"))
    fig.add_trace(go.Scatter(x=[q[0] for q in MRMS_DOTS], y=[q[1] for q in MRMS_DOTS], mode="markers",
                             marker=dict(color="black", size=3), xaxis="x" + sx, yaxis="y" + sx, hoverinfo="skip"))
    fig.add_trace(go.Scatter(x=[q[0] for q in MESO_DOT], y=[q[1] for q in MESO_DOT], mode="markers",
                             marker=dict(color="black", size=20), xaxis="x" + sx, yaxis="y" + sx, hoverinfo="skip"))

# colour bars
BARS = [(PROB_EDGES, PROB_COLORS, PROB_TICKS, 433, 1147), (UH_EDGES, UH_COLORS, UH_TICKS, 1333, 2083)]
for i, (edges, cols, ticks, left, right) in enumerate(BARS):
    sx = str(7 + i)
    mids = [(a + b) / 2 for a, b in zip(edges[:-1], edges[1:])]
    fig.add_trace(go.Bar(x=mids, y=[1] * len(mids), width=edges[1] - edges[0], marker=dict(color=cols, line=dict(color="black", width=2.5)),
                         xaxis="x" + sx, yaxis="y" + sx, hoverinfo="skip"))
    layout_axes["xaxis" + sx] = dict(domain=[fx(left), fx(right)], range=[edges[0], edges[-1]], anchor="y" + sx, tickvals=ticks,
                                     ticks="", showgrid=False, zeroline=False, showline=True, mirror=True, linecolor="black", linewidth=3,
                                     ticklabelstandoff=-4, tickfont=dict(family="Liberation Sans", size=29, color="black"), fixedrange=True)
    layout_axes["yaxis" + sx] = dict(domain=[fy(1893), fy(1849)], range=[0, 1], anchor="x" + sx, showticklabels=False, ticks="",
                                     showgrid=False, zeroline=False, showline=True, mirror=True, linecolor="black", linewidth=3, fixedrange=True)


def txt(text, px, py, size, family="Liberation Sans", anchor="center"):
    return dict(text=text, x=fx(px), y=fy(py), xref="paper", yref="paper", xanchor=anchor, yanchor="middle", showarrow=False,
                font=dict(family=family, size=size, color="black"))


anns = [txt(TITLE, 1249, 100, 75)]
anns += [txt(name, 274, py, 78) for name, py in zip(ROW_NAMES, [420, 970, 1518])]
anns += [txt(line, 271, py, 46, "Noto Sans") for line, py in zip(NOTE_LINES, [633, 697, 762])]
anns += [txt(tag, px, py, 64, anchor="left") for tag, px, py in zip(PANEL_TAGS, [484] * 3 + [1399] * 3, [234, 783, 1332] * 2)]
anns += [txt(PROB_TITLE, 792, 1802, 46), txt(UH_TITLE, 1708, 1802, 46)]
anns.append(dict(x=fx(646), y=fy(538), xref="paper", yref="paper", axref="pixel", ayref="pixel", ax=418 - 646, ay=642 - 538, text="",
                 showarrow=True, arrowhead=2, arrowsize=1.3, arrowwidth=6, arrowcolor="black", standoff=0))

fig.update_layout(
    width=W, height=H, margin=dict(l=0, r=0, t=0, b=0, autoexpand=False), showlegend=False, paper_bgcolor="#BDD7EE", plot_bgcolor="white",
    bargap=0, annotations=anns,
    shapes=[dict(type="rect", xref="paper", yref="paper", x0=fx(83), x1=fx(2112), y0=-0.02, y1=fy(40), fillcolor="white",
                 line=dict(color="#2E75B6", width=3), layer="below")],
    **layout_axes,
)
fig.write_html("out.html", config={"displayModeBar": False},
               post_script="document.body.style.margin='0';document.body.style.overflow='hidden';")
